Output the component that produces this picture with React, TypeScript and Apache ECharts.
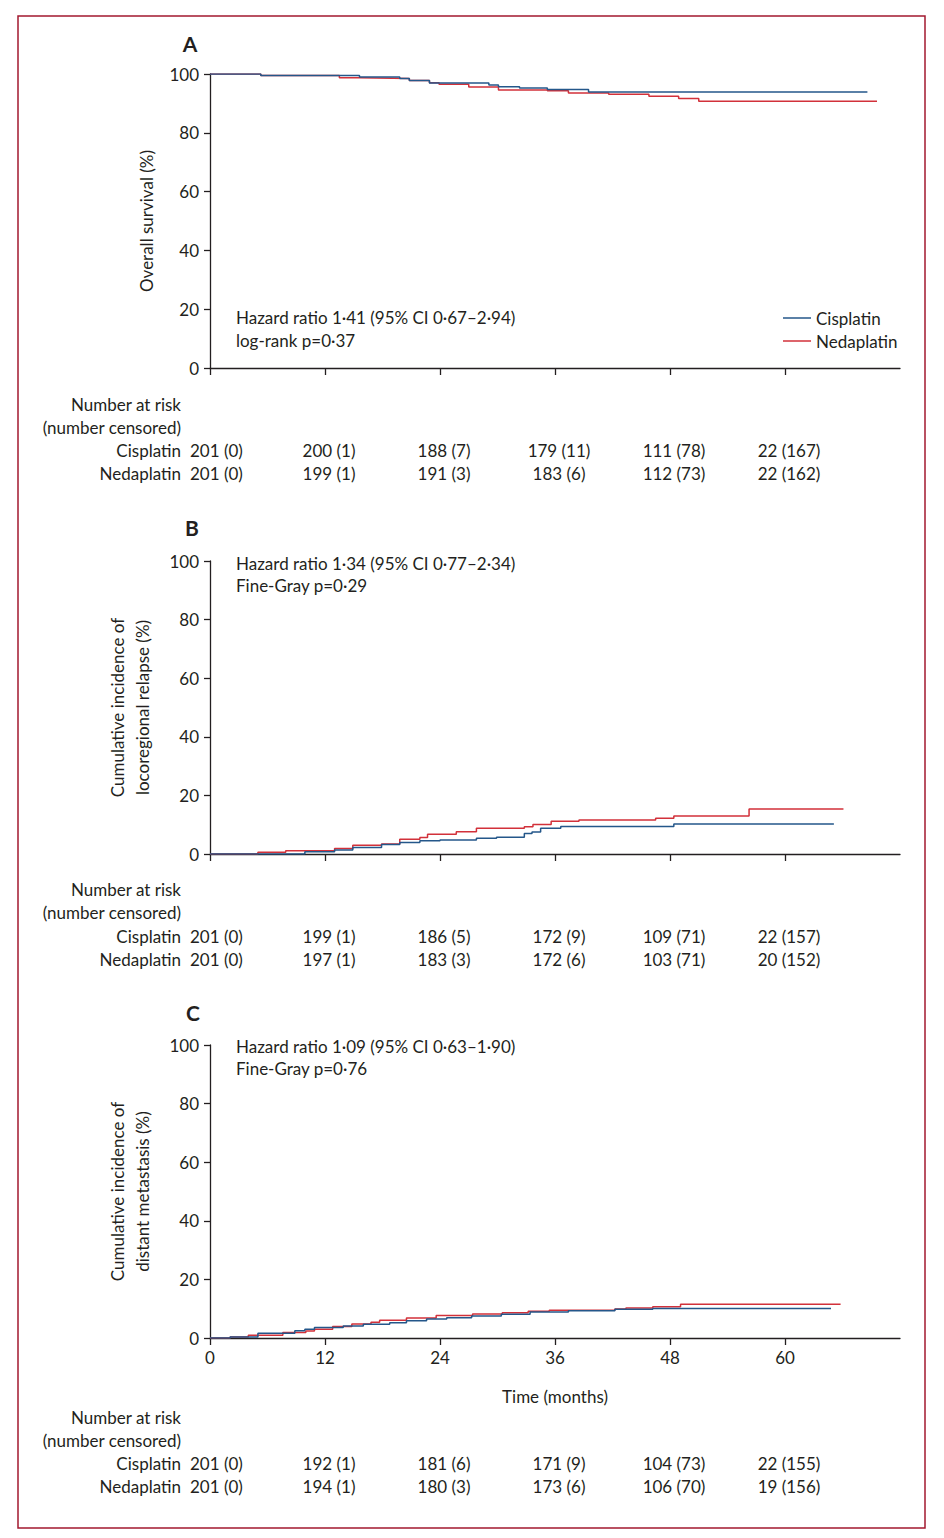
import React, { useEffect, useRef } from "react";
import * as echarts from "echarts";

// ---------- data ----------
const tickMonths = [0, 12, 24, 36, 48, 60];

// Panel A: overall survival (%), [month, value]
const osCisplatin: number[][] = [
  [0, 100], [5.3, 99.5], [15.6, 99.0], [19.8, 98.5], [20.8, 97.8], [22.9, 96.9],
  [29.1, 96.3], [30.1, 95.7], [32.3, 95.2], [35.2, 94.7], [39.5, 93.9], [68.6, 93.9],
];
const osNedaplatin: number[][] = [
  [0, 100], [5.3, 99.5], [13.5, 98.7], [15.6, 98.5], [20.8, 97.8], [22.9, 97.0],
  [23.9, 96.5], [27.0, 95.6], [30.1, 94.6], [35.2, 94.3], [37.4, 93.5], [41.6, 93.1],
  [45.8, 92.4], [48.9, 91.7], [51.0, 90.7], [69.6, 90.7],
];

// Panel B: cumulative incidence of locoregional relapse (%)
const lrCisplatin: number[][] = [
  [0, 0], [9.9, 0.8], [13.0, 1.4], [14.9, 2.2], [17.9, 3.2], [19.8, 3.9], [21.9, 4.5],
  [24.0, 4.8], [27.8, 5.35], [29.9, 5.7], [32.8, 7.0], [33.6, 7.5], [34.5, 8.8],
  [36.6, 9.4], [48.4, 10.2], [65.1, 10.2],
];
const lrNedaplatin: number[][] = [
  [0, 0], [5.0, 0.6], [7.9, 1.1], [13.0, 1.9], [14.9, 3.0], [17.9, 3.4], [19.8, 5.0],
  [21.9, 5.6], [22.7, 6.7], [25.7, 7.6], [27.8, 8.8], [32.8, 9.3], [33.7, 10.1],
  [35.6, 11.2], [38.5, 11.6], [46.5, 12.2], [48.4, 13.0], [56.25, 15.4], [66.1, 15.4],
];

// Panel C: cumulative incidence of distant metastasis (%)
const dmCisplatin: number[][] = [
  [0, 0], [2.1, 0.34], [5.0, 1.6], [8.85, 2.5], [9.9, 3.0], [10.9, 3.6], [13.9, 4.1],
  [16.0, 4.7], [18.75, 5.2], [20.5, 5.9], [22.6, 6.5], [24.7, 6.9], [27.3, 7.5],
  [30.4, 8.1], [33.4, 8.9], [37.4, 9.3], [42.25, 9.8], [46.2, 10.1], [64.8, 10.1],
];
const dmNedaplatin: number[][] = [
  [0, 0], [2.1, 0.34], [4.0, 0.9], [7.6, 1.9], [10.0, 2.4], [10.9, 3.0], [12.8, 3.9],
  [14.8, 4.8], [16.8, 5.35], [17.7, 6.1], [20.5, 6.8], [23.6, 7.7], [27.4, 8.2],
  [30.5, 8.65], [33.2, 9.1], [35.4, 9.45], [42.25, 9.9], [43.4, 10.2], [46.2, 10.7],
  [49.1, 11.5], [65.8, 11.5],
];

// Number at risk (number censored) at tickMonths
const riskA_cis = [201, 200, 188, 179, 111, 22];
const censA_cis = [0, 1, 7, 11, 78, 167];
const riskA_ned = [201, 199, 191, 183, 112, 22];
const censA_ned = [0, 1, 3, 6, 73, 162];
const riskB_cis = [201, 199, 186, 172, 109, 22];
const censB_cis = [0, 1, 5, 9, 71, 157];
const riskB_ned = [201, 197, 183, 172, 103, 20];
const censB_ned = [0, 1, 3, 6, 71, 152];
const riskC_cis = [201, 192, 181, 171, 104, 22];
const censC_cis = [0, 1, 6, 9, 73, 155];
const riskC_ned = [201, 194, 180, 173, 106, 19];
const censC_ned = [0, 1, 3, 6, 70, 156];

const panelLetters = ["A", "B", "C"];
const hrTexts = [
  "Hazard ratio 1·41 (95% CI 0·67–2·94)",
  "Hazard ratio 1·34 (95% CI 0·77–2·34)",
  "Hazard ratio 1·09 (95% CI 0·63–1·90)",
];
const pTexts = ["log-rank p=0·37", "Fine-Gray p=0·29", "Fine-Gray p=0·76"];
const yNames = [
  "Overall survival (%)",
  "Cumulative incidence of\nlocoregional relapse (%)",
  "Cumulative incidence of\ndistant metastasis (%)",
];
const seriesNames = ["Cisplatin", "Nedaplatin"];

// ---------- styles ----------
const FONT = "Lato";
const FS = 17;
const INK = "#231f20";
const BLUE = "#24578a";
const RED = "#d2313a";
const FRAME = "#a3192f";

const grids = [
  { left: 210, top: 74, width: 690, height: 294 },
  { left: 210, top: 561, width: 690, height: 293 },
  { left: 210, top: 1045, width: 690, height: 293 },
];
const letterPos = [[190, 43], [192, 527], [193, 1012]];
const annotY = [[317, 340], [563, 585], [1046, 1068]];
const tableY = [[404, 427, 450, 473], [889, 912, 936, 959], [1417, 1440, 1463, 1486]];

export default function App() {
  const ref = useRef<HTMLDivElement>(null);

  useEffect(() => {
    if (!ref.current) return;
    const chart = echarts.init(ref.current, undefined, { renderer: "svg" });

    const xAxes = grids.map((_, i) => ({
      type: "value",
      gridIndex: i,
      min: 0,
      max: 72,
      axisLine: { show: true, lineStyle: { color: INK, width: 1.3 } },
      axisTick: {
        show: true,
        length: 7,
        customValues: tickMonths,
        lineStyle: { color: INK, width: 1.3 },
      },
      axisLabel: {
        show: i === 2,
        customValues: tickMonths,
        fontFamily: FONT,
        fontSize: FS,
        color: INK,
        margin: 11,
      },
      splitLine: { show: false },
      name: i === 2 ? "Time (months)" : "",
      nameLocation: "middle",
      nameGap: 50,
      nameTextStyle: { fontFamily: FONT, fontSize: FS, color: INK },
    }));

    const yAxes = grids.map((_, i) => ({
      type: "value",
      gridIndex: i,
      min: 0,
      max: 100,
      interval: 20,
      axisLine: { show: true, lineStyle: { color: INK, width: 1.3 } },
      axisTick: { show: true, length: 6, lineStyle: { color: INK, width: 1.3 } },
      axisLabel: { fontFamily: FONT, fontSize: FS, color: INK, margin: 11 },
      splitLine: { show: false },
      name: yNames[i],
      nameLocation: "middle",
      nameGap: i === 0 ? 51 : 55,
      nameTextStyle: { fontFamily: FONT, fontSize: FS, color: INK, lineHeight: 25 },
    }));

    const datasets = [
      [osCisplatin, osNedaplatin],
      [lrCisplatin, lrNedaplatin],
      [dmCisplatin, dmNedaplatin],
    ];
    const series: any[] = [];
    datasets.forEach((pair, i) => {
      pair.forEach((d, j) => {
        series.push({
          type: "line",
          name: seriesNames[j],
          xAxisIndex: i,
          yAxisIndex: i,
          step: "end",
          showSymbol: false,
          symbol: "none",
          color: j === 0 ? BLUE : RED,
          lineStyle: { width: 1.5, color: j === 0 ? BLUE : RED },
          data: d,
          z: j === 0 ? 3 : 2,
        });
      });
    });

    chart.setOption({
      animation: false,
      backgroundColor: "#ffffff",
      textStyle: { fontFamily: FONT },
      grid: grids,
      xAxis: xAxes,
      yAxis: yAxes,
      legend: {
        orient: "vertical",
        left: 783,
        top: 309,
        padding: 0,
        icon: "rect",
        itemWidth: 28,
        itemHeight: 1.5,
        itemGap: 5,
        data: seriesNames,
        textStyle: { fontFamily: FONT, fontSize: FS, color: INK, lineHeight: 18 },
        selectedMode: false,
      },
      series,
    });

    const txt = (x: number, y: number, text: string, align: string, extra: any = {}) => ({
      type: "text",
      x,
      y,
      silent: true,
      style: {
        text,
        fontFamily: FONT,
        fontSize: FS,
        fill: INK,
        align,
        verticalAlign: "middle",
        ...extra,
      },
    });

    const graphics: any[] = [
      {
        type: "rect",
        silent: true,
        shape: { x: 18, y: 16, width: 907, height: 1512 },
        style: { fill: "none", stroke: FRAME, lineWidth: 1.5 },
      },
    ];

    const tables = [
      [riskA_cis, censA_cis, riskA_ned, censA_ned],
      [riskB_cis, censB_cis, riskB_ned, censB_ned],
      [riskC_cis, censC_cis, riskC_ned, censC_ned],
    ];

    for (let i = 0; i < 3; i++) {
      graphics.push(
        txt(letterPos[i][0], letterPos[i][1], panelLetters[i], "center", {
          fontSize: 21,
          fontWeight: "bold",
        })
      );
      graphics.push(txt(236, annotY[i][0], hrTexts[i], "left"));
      graphics.push(txt(236, annotY[i][1], pTexts[i], "left"));

      const ys = tableY[i];
      graphics.push(txt(181, ys[0], "Number at risk", "right"));
      graphics.push(txt(181, ys[1], "(number censored)", "right"));
      graphics.push(txt(181, ys[2], "Cisplatin", "right"));
      graphics.push(txt(181, ys[3], "Nedaplatin", "right"));
      const [rc, cc, rn, cn] = tables[i];
      tickMonths.forEach((m, k) => {
        const px = chart.convertToPixel({ xAxisIndex: i }, m) as number;
        if (k === 0) {
          graphics.push(txt(px - 20, ys[2], `${rc[k]} (${cc[k]})`, "left"));
          graphics.push(txt(px - 20, ys[3], `${rn[k]} (${cn[k]})`, "left"));
        } else {
          graphics.push(txt(px + 4, ys[2], `${rc[k]} (${cc[k]})`, "center"));
          graphics.push(txt(px + 4, ys[3], `${rn[k]} (${cn[k]})`, "center"));
        }
      });
    }

    chart.setOption({ graphic: graphics });

    return () => chart.dispose();
  }, []);

  return (
    <div
      ref={ref}
      style={{ position: "fixed", left: 0, top: 0, width: 944, height: 1538, background: "#fff" }}
    />
  );
}
